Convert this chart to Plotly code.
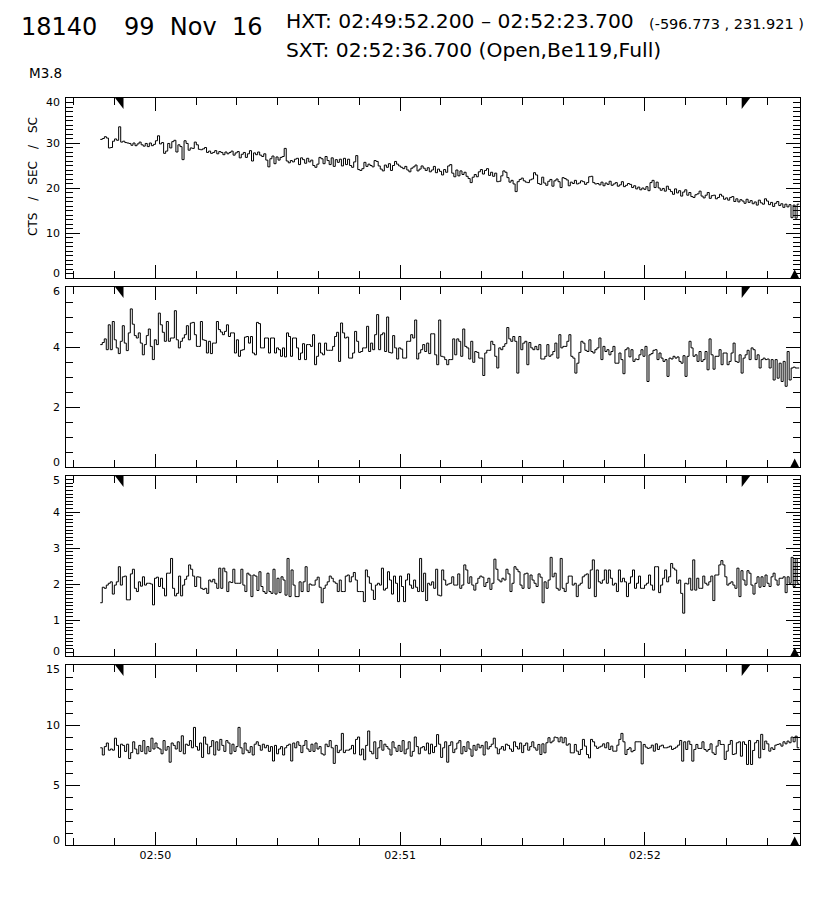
import pandas as pd
import plotly.graph_objects as go
from plotly.subplots import make_subplots

# time window of the light curves (0.5 s HXT bins)
T_START = "1999-11-16 02:49:46.5"
T_END = "1999-11-16 02:52:37.8"
HXT_START = "1999-11-16 02:49:52.2"
HXT_END = "1999-11-16 02:52:23.7"
SXT_TIME = "1999-11-16 02:52:36.7"
X_RANGE = ["1999-11-16 02:49:38.1", "1999-11-16 02:52:38.0"]

# channel L (top panel)
ch_l = [
    30.8, 31.0, 31.4, 31.1, 28.9, 29.0, 30.4, 30.9, 30.6, 33.6, 30.2, 30.4, 30.1, 30.0, 29.9, 29.5, 30.0, 29.4, 29.8, 30.2,
    29.6, 29.3, 29.9, 29.2, 30.0, 29.4, 29.7, 30.5, 31.6, 29.8, 30.1, 27.7, 28.2, 29.9, 28.9, 30.3, 30.6, 28.0, 29.6, 29.2,
    26.3, 30.5, 29.9, 28.4, 28.9, 28.8, 30.2, 29.6, 28.6, 28.5, 28.7, 29.0, 27.9, 28.2, 27.7, 27.9, 28.3, 27.6, 28.1, 27.9,
    27.4, 28.0, 27.6, 27.9, 28.2, 27.3, 27.8, 28.1, 26.7, 27.5, 27.9, 26.8, 27.6, 28.3, 26.0, 27.8, 27.4, 28.0, 27.3, 27.0,
    27.6, 26.2, 24.7, 26.5, 27.1, 25.4, 26.9, 26.2, 26.8, 27.0, 28.8, 26.0, 25.6, 26.1, 25.8, 26.4, 26.6, 25.2, 26.7, 26.3,
    25.5, 26.6, 25.8, 26.2, 25.0, 24.6, 25.3, 26.8, 26.5, 25.4, 27.0, 26.1, 25.2, 26.7, 24.8, 26.3, 25.7, 26.4, 24.9, 26.6,
    25.2, 26.4, 25.0, 24.6, 25.8, 27.2, 24.1, 23.9, 24.3, 25.7, 24.8, 25.3, 25.0, 24.7, 26.1, 25.9, 24.9, 24.2, 23.8, 25.1,
    24.6, 25.4, 23.9, 25.0, 25.9, 25.3, 24.9, 24.6, 24.3, 24.8, 24.0, 23.6, 24.4, 24.7, 25.1, 23.8, 24.2, 24.9, 24.4, 23.9,
    24.5, 23.6, 24.0, 24.8, 23.4, 24.2, 23.7, 22.9, 24.1, 23.5, 24.9, 25.2, 23.3, 22.5, 24.0, 22.7, 23.8, 23.0, 23.5, 22.6,
    22.1, 21.2, 22.4, 23.0, 22.5, 23.6, 24.1, 23.1, 23.9, 24.3, 22.8, 23.5, 22.6, 23.3, 21.4, 21.5, 22.7, 23.8, 23.5, 22.3,
    21.3, 21.7, 20.9, 19.2, 21.4, 21.9, 22.2, 21.6, 21.3, 21.2, 21.8, 22.0, 23.4, 22.9, 21.0, 20.8, 22.4, 21.1, 20.6, 21.5,
    21.9, 20.4, 21.6, 22.0, 21.4, 20.1, 22.3, 22.1, 21.8, 20.5, 21.3, 21.0, 21.7, 20.9, 21.1, 21.6, 21.4, 20.8, 21.2, 22.5,
    22.6, 21.2, 20.9, 21.0, 20.7, 21.3, 20.5, 21.1, 20.8, 21.5, 20.6, 20.9, 21.2, 20.4, 20.7, 21.4, 20.3, 20.6, 21.0, 20.8,
    20.1, 20.5, 19.8, 20.2, 19.6, 20.0, 19.7, 20.3, 19.4, 21.2, 21.7, 20.1, 21.3, 20.0, 19.5, 19.9, 19.3, 20.4, 19.7, 19.2,
    18.6, 19.8, 18.9, 19.4, 18.2, 19.1, 19.6, 18.4, 19.0, 18.1, 17.9, 18.5, 18.7, 19.3, 18.2, 17.8, 18.4, 19.0, 17.7, 18.3,
    18.4, 17.6, 17.9, 18.6, 18.2, 17.5, 17.8, 17.3, 17.9, 18.1, 17.0, 17.6, 16.9, 17.4, 17.1, 16.6, 17.5, 16.8, 17.2, 16.5,
    16.9, 16.2, 17.3, 16.7, 16.4, 17.6, 17.1, 16.3, 16.8, 15.9, 16.6, 17.0, 16.1, 16.5, 15.7, 16.4, 15.8, 16.3, 13.4, 16.2,
    13.3, 16.4,
]

# channel M1
ch_m1 = [
    4.08, 4.15, 4.27, 3.91, 4.74, 3.91, 4.85, 4.24, 3.97, 3.78,
    4.19, 4.71, 4.13, 3.88, 4.47, 5.27, 4.76, 4.38, 4.30, 4.47,
    4.13, 3.74, 4.08, 4.38, 4.60, 4.02, 3.58, 4.24, 4.08, 5.13,
    4.74, 4.49, 4.19, 4.85, 4.19, 4.30, 4.30, 5.21, 4.24, 3.97,
    4.19, 4.30, 4.41, 4.71, 4.24, 4.80, 4.82, 4.41, 4.02, 4.02,
    4.85, 4.24, 4.22, 3.80, 4.19, 3.78, 4.13, 4.13, 4.85, 4.58,
    4.50, 4.41, 4.52, 4.74, 4.35, 4.47, 4.47, 3.80, 4.24, 3.69,
    3.89, 3.91, 4.33, 4.35, 4.13, 4.35, 3.80, 3.74, 4.82, 4.78,
    3.97, 3.97, 4.30, 4.30, 3.80, 4.30, 4.30, 3.80,
    3.97, 3.91, 3.69, 3.97, 3.67, 4.47, 4.35, 3.69, 4.30, 4.30,
    3.97, 3.58, 3.80, 4.11, 3.58, 4.08, 4.08, 4.02, 4.41, 3.41,
    3.69, 4.13, 3.80, 3.74, 4.13, 3.89, 3.89, 3.89, 4.02, 4.35,
    4.49, 3.52, 4.80, 4.47, 4.30, 4.33, 3.63, 3.63, 3.80, 4.52,
    4.19, 3.82, 3.85, 3.97, 3.97, 4.69, 3.85, 4.13, 3.91, 4.41,
    5.08, 3.91, 4.41, 4.47, 3.85, 5.00, 3.82, 3.80, 4.38, 3.97,
    3.60, 3.97, 3.93, 3.63, 3.63, 4.19, 4.19, 4.41, 4.30, 4.90,
    3.60, 3.80, 3.91, 4.08, 3.85, 4.13, 3.78, 4.44, 4.44, 3.74,
    3.41, 4.90, 3.69, 3.67, 3.58, 3.41, 3.58, 3.58, 4.27, 3.74,
    4.27, 4.19, 3.69, 4.60, 4.02, 3.97, 3.60, 4.19, 3.49, 3.85,
    3.82, 3.63, 3.63, 3.05, 3.80, 3.89, 3.89, 4.19, 4.08, 3.69,
    3.30, 3.97, 3.91, 4.02, 4.11, 4.65, 4.27, 4.19, 4.35, 4.19,
    3.13, 4.35, 3.91, 4.13, 4.19, 3.41, 4.15, 3.97, 3.91, 4.02,
    3.91, 4.08, 3.60, 3.60, 3.69, 4.08, 3.69,
    3.74, 3.85, 4.13, 3.63, 4.41, 3.97, 4.02, 4.02, 4.19, 4.41,
    3.69, 3.63, 3.13, 3.46, 3.82, 4.19, 4.13, 3.89, 3.85, 4.24,
    3.85, 3.80, 3.91, 3.97, 4.30, 3.58, 4.02, 3.85, 3.91, 3.74,
    3.85, 4.02, 3.46, 3.46, 3.80, 3.58, 3.11, 3.91, 3.97, 3.67,
    3.91, 3.52, 3.60, 3.58, 3.74, 3.91, 3.69, 4.02, 2.85, 3.74,
    3.78, 3.89, 3.91, 3.58, 3.80, 3.63, 3.52, 3.58, 3.02, 3.63,
    3.60, 3.69, 3.63, 3.67, 3.52, 3.46, 3.71, 3.02, 3.69, 4.19,
    3.97, 3.69, 3.74, 3.52, 3.85, 3.52, 3.58, 3.85, 3.24, 4.27,
    3.74, 3.26, 3.69, 3.69, 3.91, 3.41, 3.80, 3.80, 3.41, 3.52,
    3.80, 4.13, 3.52, 3.49, 3.74, 3.13, 3.63, 3.74, 3.89, 3.58,
    3.97, 3.91, 3.58, 3.74, 3.30, 3.58, 3.63, 3.58, 3.60, 3.30,
    3.58, 2.90, 3.58, 2.96, 3.46, 2.85, 3.52, 2.69, 3.85, 2.90,
    3.30, 3.33, 3.30, 3.30,
]

# channel M2
ch_m2 = [
    1.48, 1.91, 1.88, 1.97, 2.02, 2.06, 1.72, 1.97, 2.06, 2.48,
    1.97, 2.20, 2.22, 1.56, 1.56, 2.28, 2.41, 1.88, 1.79, 2.06,
    1.94, 2.20, 1.97, 2.02, 2.02, 2.00, 1.42, 2.16, 2.19, 1.93,
    2.16, 1.88, 1.67, 2.30, 2.30, 2.71, 1.88, 1.67, 1.74, 2.22,
    1.67, 1.97, 2.13, 2.22, 2.53, 2.41, 2.22, 1.93, 2.20, 2.19,
    1.88, 1.85, 1.88, 1.74, 2.11, 2.06, 2.13, 2.02, 1.88, 2.44,
    1.88, 2.44, 2.34, 1.79, 2.06, 2.04, 2.41, 2.02, 2.02, 2.02,
    2.41, 1.97, 1.79, 2.30, 2.25, 1.65, 2.25, 2.22, 1.82, 2.34,
    1.93, 1.79, 1.74, 2.30, 1.79, 1.74, 2.41, 1.72,
    2.16, 1.76, 2.20, 2.11, 1.69, 2.71, 1.65, 2.39, 1.97, 1.65,
    1.65, 2.06, 1.79, 2.06, 2.48, 1.79, 2.00, 1.97, 1.97, 2.11,
    2.19, 1.91, 1.48, 1.88, 1.97, 2.06, 2.22, 2.16, 2.06, 2.02,
    1.79, 2.11, 1.79, 1.79, 2.22, 2.25, 2.06, 2.20, 2.32, 2.11,
    1.79, 1.79, 1.79, 1.51, 2.39, 2.20, 2.02, 1.83, 1.57, 1.97,
    2.02, 1.97, 2.44, 1.83, 1.88, 2.34, 2.11, 1.72, 2.22, 2.02,
    1.51, 2.22, 1.93, 1.51, 2.11, 2.28, 1.97, 1.88, 2.11, 1.91,
    1.79, 2.71, 1.79, 2.30, 1.54, 2.02, 1.97, 2.06, 1.88, 2.41,
    1.69, 1.67, 2.39, 2.11, 1.97, 2.00, 2.02, 2.20, 1.97, 1.97,
    2.28, 1.88, 1.97, 2.53, 2.39, 2.02, 2.20, 1.97, 1.83, 2.02,
    2.16, 2.22, 2.19, 1.93, 2.04, 2.16, 1.85, 2.02, 2.69, 2.41,
    2.11, 2.06, 2.16, 2.11, 2.41, 2.28, 1.79, 2.02, 2.48, 2.41,
    2.34, 1.97, 1.88, 2.28, 2.30, 1.88, 2.25, 2.11, 2.02, 1.93,
    2.28, 2.19, 1.48, 2.06, 1.88,
    2.11, 2.74, 2.20, 2.30, 1.88, 1.83, 2.71, 1.88, 1.79, 2.02,
    2.22, 2.22, 1.97, 2.02, 1.65, 1.97, 2.02, 2.20, 2.25, 2.28,
    1.88, 2.39, 2.67, 1.65, 2.39, 2.06, 2.02, 2.11, 2.39, 2.02,
    2.39, 2.16, 1.97, 2.02, 1.79, 2.39, 2.06, 2.16, 2.06, 1.65,
    2.02, 2.20, 2.39, 1.88, 2.02, 2.22, 1.88, 1.88, 1.97, 2.02,
    2.25, 1.97, 1.83, 2.48, 2.48, 1.76, 1.97, 2.16, 2.39, 2.06,
    2.20, 2.57, 2.44, 2.39, 2.02, 2.11, 1.74, 1.19, 2.02, 2.00,
    2.16, 1.83, 2.67, 1.83, 2.16, 1.88, 1.88, 2.22, 2.02, 1.97,
    2.06, 2.22, 1.54, 2.25, 2.25, 2.53, 2.65, 2.53, 2.20, 1.97,
    2.02, 2.06, 1.97, 1.88, 2.44, 1.65, 2.37, 2.11, 1.97, 2.37,
    2.30, 1.97, 1.72, 2.02, 2.20, 1.91, 2.20, 1.93, 2.25, 2.02,
    1.93, 2.20, 2.30, 2.11, 1.97, 2.16, 2.16, 2.20, 1.76, 2.20,
    2.02, 2.74, 1.93, 2.71, 2.02,
]

# channel H
ch_h = [
    8.1, 7.5, 8.2, 8.5, 7.9, 8.0, 7.9, 8.9, 8.3, 7.3, 8.4, 8.3, 7.8, 8.4, 7.2, 7.7, 8.6, 8.0, 7.6, 8.3,
    7.8, 8.7, 7.6, 8.2, 7.8, 8.9, 8.0, 8.5, 8.1, 8.0, 7.6, 8.7, 7.9, 8.2, 6.9, 8.5, 8.3, 8.0, 8.6, 7.8,
    9.1, 7.6, 8.4, 8.3, 8.7, 8.1, 9.8, 8.2, 7.9, 8.5, 7.3, 9.0, 8.4, 7.6, 8.2, 8.7, 7.5, 8.6, 7.9, 8.8,
    8.3, 7.8, 8.7, 8.5, 7.6, 8.4, 7.8, 8.2, 9.8, 8.1, 7.6, 8.5, 7.9, 7.7, 8.2, 7.5, 8.4, 8.6, 8.3, 7.9,
    8.4, 8.1, 8.3, 7.8, 8.2, 7.0, 8.3, 7.6, 8.0, 8.2, 7.5, 8.1, 8.3, 8.4, 7.0, 8.5, 8.1, 8.6, 8.3, 7.7,
    8.3, 8.7, 8.0, 7.8, 8.4, 7.8, 8.5, 8.0, 8.2, 7.6, 7.5, 8.4, 8.2, 8.7, 8.1, 6.8, 8.3, 7.7, 7.9, 9.3,
    7.7, 7.9, 7.9, 8.0, 8.3, 7.6, 8.8, 9.0, 7.5, 8.0, 7.1, 8.3, 9.5, 7.8, 7.6, 8.6, 7.2, 8.1, 8.7, 7.9,
    8.4, 8.2, 8.0, 7.5, 8.6, 8.1, 7.8, 8.3, 7.8, 8.7, 7.6, 8.0, 8.6, 7.4, 7.8, 9.0, 8.2, 7.6, 8.1, 8.2,
    7.9, 8.5, 7.6, 8.4, 7.7, 8.2, 9.2, 8.4, 7.3, 8.1, 8.6, 6.9, 8.3, 8.6, 7.7, 8.0, 8.5, 8.7, 7.6, 8.2,
    7.8, 8.6, 8.0, 7.4, 8.3, 7.9, 8.4, 8.1, 8.3, 7.5, 8.6, 8.0, 8.2, 8.4, 8.9, 8.1, 7.6, 8.0, 8.2, 7.9,
    8.4, 8.3, 8.0, 7.8, 8.6, 8.2, 8.0, 8.5, 7.7, 8.3, 8.5, 7.9, 8.2, 8.6, 8.1, 7.9,
    8.38, 7.54, 8.43, 7.68, 8.52, 8.94, 8.52, 8.66, 8.99, 8.94, 8.60, 8.99, 8.52, 8.94, 8.32, 8.43,
    7.68, 7.68, 8.38, 7.82, 7.54, 7.96, 8.80, 8.24, 7.54, 7.26, 8.80, 8.60, 8.24, 8.05, 8.16, 8.24,
    8.43, 8.10, 8.52, 7.96, 8.24, 7.82, 7.82, 8.32, 8.80, 9.30, 8.60, 7.54, 7.96, 8.10, 7.77, 7.88,
    8.60, 8.60, 8.60, 6.76, 8.38, 8.16, 8.05, 8.10, 8.32, 7.82, 8.43, 7.96, 8.24, 8.32, 8.10, 8.10,
    8.16, 8.24, 7.96, 8.05, 8.16, 8.32, 8.71, 6.99, 8.60, 7.96, 8.66, 8.38, 6.99, 7.96, 8.38, 8.05,
    8.05, 8.60, 7.96, 7.82, 7.96, 8.43, 7.68, 7.54, 8.24, 8.71, 8.38, 8.38, 7.13, 7.82, 8.38, 8.71,
    7.54, 7.60, 8.52, 8.60, 7.40, 8.60, 8.38, 6.71, 8.71, 6.71, 7.88, 8.52, 8.71, 7.26, 9.22, 7.96,
    8.66, 8.43, 7.82, 8.10, 7.96, 8.32, 8.38, 8.43, 8.24, 8.60, 8.43, 8.66, 8.52, 8.99, 8.60, 9.07,
    8.10,
]

channels = [ch_l, ch_m1, ch_m2, ch_h]
y_tops = [40, 6, 5, 15]
y_dticks = [10, 2, 1, 5]
y_minor = [1, 0.5, 0.1, 1]

FONT = "DejaVu Sans"
# the page body adds an 8 px margin, so the figure is 8 px smaller and
# positions below are given in window pixels and shifted back by OFF
OFF = 8
W, H = 816 - OFF, 900 - OFF
ML, MT = 66 - OFF, 98 - OFF
MR, MB = W - (800 - OFF), H - (845 - OFF)
PW, PH = W - ML - MR, H - MT - MB


def px_x(px):
    return (px - OFF - ML) / PW


def px_y(py):
    return (H - MB - (py - OFF)) / PH


fig = make_subplots(rows=4, cols=1, shared_xaxes=True, vertical_spacing=9 / PH)

for i, vals in enumerate(channels):
    edges = pd.date_range(T_START, T_END, periods=len(vals) + 1)
    fig.add_trace(
        go.Scatter(
            x=edges,
            y=list(vals) + [vals[-1]],
            mode="lines",
            line=dict(color="black", width=1, shape="hv"),
            showlegend=False,
            hoverinfo="skip",
        ),
        row=i + 1, col=1,
    )

    xr = "x" if i == 0 else f"x{i + 1}"
    yr = "y" if i == 0 else f"y{i + 1}"
    tri = dict(type="path", xref=xr, yref=yr, xsizemode="pixel", ysizemode="pixel",
               fillcolor="black", line=dict(width=0), layer="above")
    # HXT start / end markers (top) and SXT time (bottom)
    fig.add_shape(**tri, xanchor=HXT_START, yanchor=y_tops[i], path="M -8.4 0 L 0 0 L 0 -11 Z")
    fig.add_shape(**tri, xanchor=HXT_END, yanchor=y_tops[i], path="M 0 0 L 8.4 0 L 0 -11 Z")
    fig.add_shape(**tri, xanchor=SXT_TIME, yanchor=0, path="M -4.3 0 L 4.3 0 L 0 8.5 Z")

    fig.update_yaxes(
        range=[0, y_tops[i]], dtick=y_dticks[i], tick0=0,
        ticks="inside", ticklen=14, tickcolor="black", tickwidth=1,
        minor=dict(dtick=y_minor[i], tick0=0, ticks="inside", ticklen=7, tickcolor="black"),
        row=i + 1, col=1,
    )

    # y tick labels; the end labels sit a little inside the frame
    n_lab = int(round(y_tops[i] / y_dticks[i]))
    for k in range(n_lab + 1):
        v = k * y_dticks[i]
        shift = 4.5 if k == 0 else (-4.5 if k == n_lab else 0)
        fig.add_annotation(
            text=f"{v:g}", xref="paper", yref=yr, x=0, y=v,
            xanchor="right", yanchor="middle", xshift=-5, yshift=shift,
            showarrow=False, borderpad=0,
            font=dict(family=FONT, size=11, color="black"),
        )

fig.update_yaxes(
    showline=True, linecolor="black", linewidth=1, mirror="ticks",
    showgrid=False, zeroline=False, automargin=False, showticklabels=False,
)
fig.update_xaxes(
    type="date", range=X_RANGE,
    showline=True, linecolor="black", linewidth=1, mirror="ticks",
    showgrid=False, zeroline=False, automargin=False,
    ticks="inside", ticklen=13, tickcolor="black", tickwidth=1,
    tick0="1999-11-16 02:50:00", dtick=60000, tickformat="%H:%M",
    minor=dict(dtick=10000, tick0="1999-11-16 02:50:00", ticks="inside", ticklen=7, tickcolor="black"),
    tickfont=dict(family=FONT, size=11, color="black"),
)

header = [
    ("18140", 20, 27, 24),
    ("99\u00a0\u00a0Nov\u00a0\u00a016", 123, 27, 24),
    ("HXT: 02:49:52.200 \u2013 02:52:23.700", 285, 21, 20.3),
    ("(-596.773 , 231.921 )", 648, 24, 14.5),
    ("SXT: 02:52:36.700 (Open,Be119,Full)", 285, 50, 20.3),
    ("M3.8", 28, 73, 13.5),
]
for text, x, y, size in header:
    fig.add_annotation(
        text=text, xref="paper", yref="paper", x=px_x(x), y=px_y(y),
        xanchor="left", yanchor="middle", showarrow=False, borderpad=0,
        font=dict(family=FONT, size=size, color="black"),
    )

fig.add_annotation(
    text="CTS\u2003/\u2003SEC\u2003/\u2003SC", textangle=-90,
    xref="paper", yref="paper", x=px_x(33), y=px_y(177),
    xanchor="center", yanchor="middle", showarrow=False,
    font=dict(family=FONT, size=12, color="black"),
)

fig.update_layout(
    width=W, height=H,
    margin=dict(l=ML, r=MR, t=MT, b=MB, autoexpand=False),
    paper_bgcolor="white", plot_bgcolor="white",
    font=dict(family=FONT, color="black"),
    showlegend=False,
)

fig.write_html("out.html")
